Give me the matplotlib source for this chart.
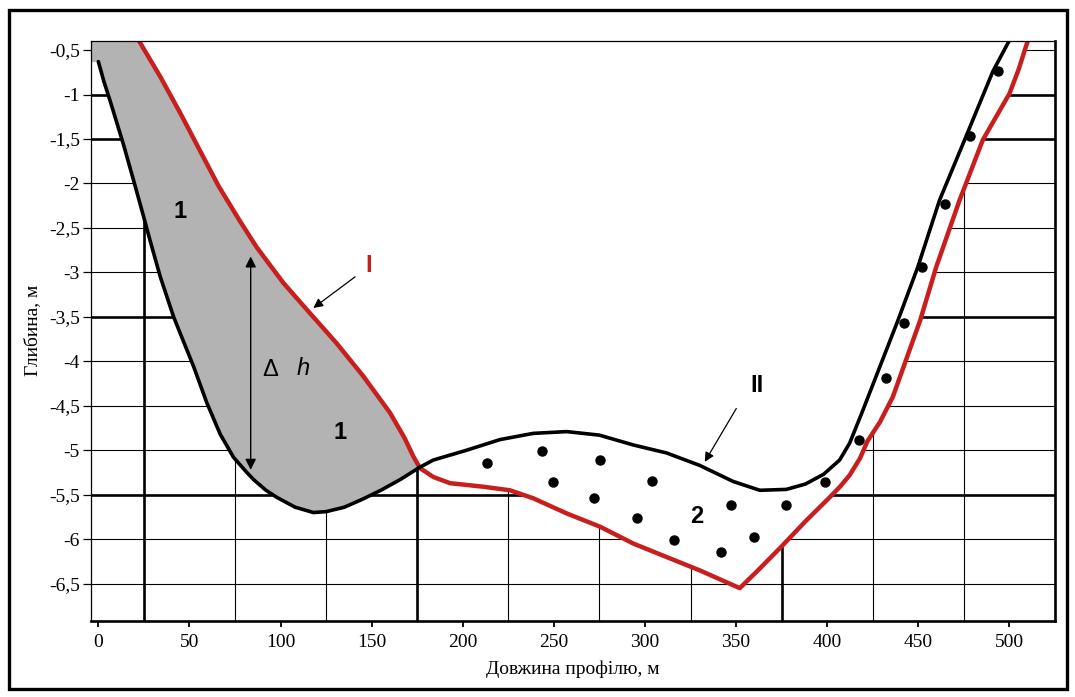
import numpy as np
import matplotlib
matplotlib.use("Agg")
import matplotlib.pyplot as plt
from matplotlib.patches import Rectangle

# ---- data ----
black_x = [0, 3, 6.6, 13.9, 19.4, 24.8, 28.5, 34, 41.3, 46.8, 52.3, 59.6, 66.9, 74.2, 81.5, 85.2,
           92, 98, 108, 118, 125, 135, 145, 155, 165.6, 176.5, 183.8, 202, 220.4, 238.7, 257,
           275, 293.5, 311.8, 330, 348.3, 363, 377.5, 388, 398, 406.8, 412.3, 419, 426.8, 438.8,
           449.7, 461.6, 476.2, 490.9, 500, 503]
black_y = [-0.63, -0.85, -1.08, -1.57, -1.97, -2.37, -2.65, -3.05, -3.5, -3.78, -4.06, -4.47, -4.82,
           -5.08, -5.25, -5.33, -5.45, -5.53, -5.64, -5.70, -5.69, -5.64, -5.55, -5.45, -5.33, -5.19,
           -5.11, -5.0, -4.88, -4.81, -4.79, -4.83, -4.94, -5.03, -5.17, -5.35, -5.45, -5.44,
           -5.38, -5.27, -5.11, -4.92, -4.58, -4.17, -3.54, -2.94, -2.19, -1.47, -0.74, -0.39, -0.25]

red_x = [20, 22.1, 34, 45, 56, 66, 77.9, 87, 101.6, 116.2, 130.9, 145.5, 160.1, 168, 172.9, 176.5,
         183.8, 193, 211.3, 225.9, 238.7, 257, 275.4, 293.7, 311.8, 330, 352, 362, 375, 388,
         401.3, 407, 412.3, 418, 422, 429, 436, 443.5, 451, 459.8, 472.6, 485.4, 500, 505, 510, 512]
red_y = [-0.3, -0.39, -0.8, -1.21, -1.64, -2.03, -2.43, -2.72, -3.12, -3.46, -3.80, -4.17, -4.58,
         -4.86, -5.07, -5.2, -5.3, -5.37, -5.41, -5.45, -5.54, -5.71, -5.86, -6.05, -6.20, -6.35,
         -6.55, -6.35, -6.08, -5.8, -5.53, -5.41, -5.28, -5.09, -4.9, -4.68, -4.4, -3.97, -3.54,
         -2.94, -2.19, -1.51, -0.99, -0.72, -0.40, -0.3]

dots_x = [213.4, 243.3, 275.2, 249.6, 272.1, 303.6, 295.7, 315.8, 347, 341.5, 359.6, 377.6, 398.7,
          417.2, 432.4, 442.4, 452.1, 464.4, 478.1, 493.6]
dots_y = [-5.14, -5.01, -5.11, -5.36, -5.54, -5.35, -5.76, -6.01, -5.62, -6.14, -5.97, -5.62, -5.36,
          -4.88, -4.19, -3.57, -2.94, -2.23, -1.47, -0.74]

x_ticks = [0, 50, 100, 150, 200, 250, 300, 350, 400, 450, 500]
x_tick_labels = ["0", "50", "100", "150", "200", "250", "300", "350", "400", "450", "500"]
y_ticks = [-0.5, -1, -1.5, -2, -2.5, -3, -3.5, -4, -4.5, -5, -5.5, -6, -6.5]
y_tick_labels = ["-0,5", "-1", "-1,5", "-2", "-2,5", "-3", "-3,5", "-4", "-4,5", "-5", "-5,5", "-6", "-6,5"]
x_grid = [25, 75, 125, 175, 225, 275, 325, 375, 425, 475]
x_grid_thick = [25, 175, 375]
y_thick = [-1, -1.5, -3.5, -5.5]

x_label = "Довжина профілю, м"
y_label = "Глибина, м"

RED = "#c81e1e"
GRAY = "#b3b3b3"

plt.rcParams['font.family'] = ['Liberation Serif', 'DejaVu Serif']

fig = plt.figure(figsize=(10.75, 6.97), dpi=100)
ax = fig.add_axes([0.0847, 0.1095, 0.9814 - 0.0847, 0.9416 - 0.1095])
ax.set_xlim(-4, 525)
ax.set_ylim(-6.916, -0.395)

# grid
ax.set_axisbelow(True)
ax.set_xticks(x_ticks)
ax.set_xticklabels(x_tick_labels, fontsize=14)
ax.set_xticks(x_grid, minor=True)
ax.set_yticks(y_ticks)
ax.set_yticklabels(y_tick_labels, fontsize=14)
ax.xaxis.grid(True, which='minor', color='black', linewidth=0.8)
ax.yaxis.grid(True, which='major', color='black', linewidth=0.8)
for t, v in zip(ax.xaxis.get_minor_ticks(), x_grid):
    if v in x_grid_thick:
        t.gridline.set_linewidth(1.9)
for t, v in zip(ax.yaxis.get_major_ticks(), y_ticks):
    if v in y_thick:
        t.gridline.set_linewidth(1.9)
        t.tick1line.set_markeredgewidth(1.9)
ax.tick_params(axis='x', which='minor', length=0)
ax.tick_params(axis='x', which='major', direction='out', length=4.5, width=1.3, pad=5)
ax.tick_params(axis='y', which='major', direction='out', length=6, width=0.9, pad=2)

# fills
xs = np.linspace(-4, 525, 4000)
b = np.interp(xs, black_x, black_y)
r = np.interp(xs, red_x, red_y)
low = np.minimum(b, r)
ax.fill_between(xs, low, 0, color='white', zorder=1, linewidth=0)
ax.fill_between(xs, b, r, where=r > b, interpolate=True, color=GRAY, zorder=1.2, linewidth=0)

# curves
ax.plot(red_x, red_y, color=RED, lw=3.2, zorder=3, solid_capstyle='round', solid_joinstyle='round')
ax.plot(black_x, black_y, color='black', lw=2.6, zorder=3.1, solid_capstyle='round',
        solid_joinstyle='round')
ax.plot(dots_x, dots_y, 'o', color='black', ms=6.5, zorder=4, linestyle='none')

# annotations
ax.annotate('', xy=(83.6, -2.82), xytext=(83.6, -5.22),
            arrowprops=dict(arrowstyle='<|-|>', color='black', lw=1.0, mutation_scale=16,
                            shrinkA=0, shrinkB=0), zorder=5)
ax.text(94.3, -4.1, 'Δ', fontsize=17, family=['Liberation Sans'], ha='center', va='center', zorder=5)
ax.text(112.4, -4.08, 'h', fontsize=17, family=['Liberation Sans'], style='italic',
        ha='center', va='center', zorder=5)
ax.text(45, -2.32, '1', fontsize=17, family=['Liberation Sans'], weight='bold',
        ha='center', va='center', zorder=5)
ax.text(132.5, -4.8, '1', fontsize=17, family=['Liberation Sans'], weight='bold',
        ha='center', va='center', zorder=5)
ax.text(328.5, -5.75, '2', fontsize=17, family=['Liberation Sans'], weight='bold',
        ha='center', va='center', zorder=5)
ax.text(148.5, -2.92, 'I', fontsize=17, family=['Liberation Sans'], weight='bold', color=RED,
        ha='center', va='center', zorder=5)
ax.text(361.5, -4.27, 'II', fontsize=17, family=['Liberation Sans'], weight='bold',
        ha='center', va='center', zorder=5)
ax.annotate('', xy=(118, -3.40), xytext=(140.9, -3.05),
            arrowprops=dict(arrowstyle='-|>', color='black', lw=0.9, mutation_scale=14,
                            shrinkA=0, shrinkB=0), zorder=5)
ax.annotate('', xy=(332.8, -5.13), xytext=(350.1, -4.53),
            arrowprops=dict(arrowstyle='-|>', color='black', lw=0.9, mutation_scale=14,
                            shrinkA=0, shrinkB=0), zorder=5)

# spines
for s in ['top', 'left']:
    ax.spines[s].set_linewidth(0.9)
for s in ['bottom', 'right']:
    ax.spines[s].set_linewidth(1.9)
for s in ax.spines.values():
    s.set_zorder(6)

ax.set_xlabel(x_label, fontsize=14, labelpad=7)
ax.set_ylabel(y_label, fontsize=14, labelpad=6)

# outer frame
fig.patches.append(Rectangle((8.5 / 1075, 1 - 689 / 697), (1067 - 8.5) / 1075, (689 - 9.5) / 697,
                             transform=fig.transFigure, fill=False, edgecolor='black',
                             linewidth=2.4, zorder=10))

fig.savefig('out.png', dpi=100)
